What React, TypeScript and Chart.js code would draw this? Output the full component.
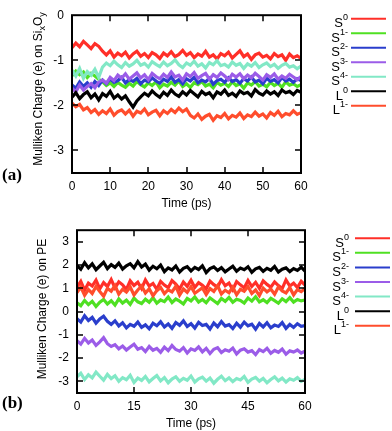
import React, { useEffect, useRef } from "react";
import { Chart, registerables } from "chart.js";

Chart.register(...registerables);

// ---------- legend / series descriptors ----------
const SERIES_BASE = ["S", "S", "S", "S", "S", "L", "L"];
const SERIES_SUP = ["0", "1-", "2-", "3-", "4-", "0", "1-"];
const SERIES_COLORS = ["#ff2f28", "#4fe022", "#2a3ecc", "#9b5ce8", "#82e8c6", "#000000", "#ff4d2c"];

// ---------- tick labels ----------
const A_X_TICKS = [0, 10, 20, 30, 40, 50, 60];
const A_Y_TICKS = [0, -1, -2, -3];
const B_X_TICKS = [0, 15, 30, 45, 60];
const B_Y_TICKS = [3, 2, 1, 0, -1, -2, -3];

// ---------- panel (a): Mulliken charge on SixOy, sampled every 1 ps (0..60) ----------
const A_S0 = [-0.72,-0.62,-0.70,-0.58,-0.66,-0.74,-0.63,-0.69,-0.80,-0.88,-0.79,-0.93,-0.84,-0.90,-0.82,-0.95,-0.86,-0.80,-0.91,-0.85,-0.94,-0.83,-0.88,-0.96,-0.84,-0.90,-0.81,-0.92,-0.87,-0.78,-0.89,-0.83,-0.94,-0.86,-0.91,-0.80,-0.93,-0.88,-0.97,-0.85,-0.90,-0.82,-0.95,-0.87,-0.79,-0.92,-0.86,-0.98,-0.88,-0.84,-0.93,-0.89,-0.97,-0.85,-0.92,-0.88,-1.00,-0.86,-0.94,-0.90,-0.96];
const A_S1 = [-1.34,-1.24,-1.32,-1.26,-1.38,-1.29,-1.35,-1.42,-1.48,-1.56,-1.50,-1.58,-1.49,-1.55,-1.60,-1.51,-1.57,-1.47,-1.54,-1.59,-1.50,-1.56,-1.48,-1.61,-1.53,-1.57,-1.49,-1.55,-1.46,-1.58,-1.52,-1.60,-1.50,-1.54,-1.47,-1.57,-1.53,-1.61,-1.49,-1.55,-1.51,-1.58,-1.48,-1.56,-1.52,-1.62,-1.50,-1.55,-1.47,-1.57,-1.53,-1.59,-1.49,-1.56,-1.51,-1.60,-1.48,-1.55,-1.52,-1.58,-1.54];
const A_S2 = [-1.55,-1.62,-1.48,-1.58,-1.50,-1.60,-1.47,-1.56,-1.44,-1.52,-1.41,-1.49,-1.45,-1.38,-1.50,-1.43,-1.47,-1.40,-1.52,-1.44,-1.48,-1.39,-1.46,-1.51,-1.42,-1.47,-1.37,-1.49,-1.43,-1.52,-1.41,-1.46,-1.38,-1.50,-1.44,-1.48,-1.40,-1.53,-1.45,-1.42,-1.49,-1.39,-1.47,-1.43,-1.51,-1.41,-1.46,-1.37,-1.48,-1.44,-1.52,-1.40,-1.47,-1.43,-1.50,-1.38,-1.46,-1.42,-1.49,-1.41,-1.45];
const A_S3 = [-1.62,-1.70,-1.55,-1.66,-1.58,-1.52,-1.61,-1.48,-1.44,-1.51,-1.38,-1.45,-1.33,-1.40,-1.30,-1.42,-1.35,-1.28,-1.39,-1.32,-1.43,-1.29,-1.36,-1.41,-1.31,-1.38,-1.26,-1.37,-1.33,-1.44,-1.30,-1.36,-1.27,-1.40,-1.34,-1.29,-1.42,-1.32,-1.38,-1.28,-1.35,-1.43,-1.31,-1.37,-1.30,-1.41,-1.33,-1.39,-1.29,-1.36,-1.44,-1.32,-1.38,-1.30,-1.42,-1.35,-1.40,-1.31,-1.37,-1.43,-1.36];
const A_S4 = [-1.22,-1.35,-1.18,-1.40,-1.25,-1.33,-1.20,-1.38,-1.15,-1.06,-1.12,-1.02,-1.10,-1.16,-1.05,-1.13,-1.08,-1.00,-1.11,-1.07,-1.15,-1.03,-1.09,-1.14,-1.04,-1.12,-1.07,-0.99,-1.10,-1.16,-1.06,-1.11,-1.02,-1.13,-1.08,-1.17,-1.05,-1.10,-1.01,-1.12,-1.09,-1.15,-1.04,-1.11,-1.07,-1.18,-1.08,-1.13,-1.05,-1.16,-1.10,-1.06,-1.14,-1.09,-1.18,-1.11,-1.07,-1.15,-1.12,-1.19,-1.13];
const A_L0 = [-1.82,-1.72,-1.85,-1.76,-1.70,-1.83,-1.75,-1.88,-1.74,-1.80,-1.69,-1.84,-1.77,-1.86,-1.79,-1.92,-2.04,-1.90,-1.81,-1.73,-1.79,-1.68,-1.76,-1.82,-1.71,-1.78,-1.66,-1.75,-1.80,-1.70,-1.77,-1.67,-1.74,-1.81,-1.69,-1.76,-1.72,-1.83,-1.70,-1.75,-1.66,-1.78,-1.73,-1.80,-1.68,-1.74,-1.71,-1.79,-1.65,-1.73,-1.77,-1.68,-1.75,-1.70,-1.78,-1.66,-1.72,-1.69,-1.76,-1.67,-1.71];
const A_L1 = [-1.95,-2.03,-1.98,-2.10,-2.05,-2.16,-2.09,-2.20,-2.12,-2.18,-2.08,-2.22,-2.14,-2.10,-2.19,-2.11,-2.24,-2.13,-2.17,-2.08,-2.21,-2.15,-2.11,-2.23,-2.12,-2.18,-2.09,-2.16,-2.06,-2.14,-2.08,-2.22,-2.28,-2.19,-2.31,-2.24,-2.20,-2.33,-2.23,-2.27,-2.18,-2.30,-2.22,-2.26,-2.17,-2.29,-2.21,-2.25,-2.15,-2.24,-2.19,-2.28,-2.16,-2.22,-2.13,-2.25,-2.18,-2.21,-2.12,-2.20,-2.16];

// ---------- panel (b): Mulliken charge on PE, sampled every 1 ps (0..60) ----------
const B_S0 = [1.05,1.30,0.92,1.22,1.10,1.35,0.98,1.25,1.08,1.38,1.02,1.28,1.15,0.95,1.32,1.12,1.26,0.99,1.36,1.10,1.21,0.96,1.30,1.14,1.03,1.33,1.18,0.97,1.27,1.09,1.35,1.04,1.24,1.13,0.98,1.31,1.16,1.06,1.37,1.11,1.23,0.94,1.29,1.15,1.02,1.34,1.08,1.26,1.00,1.32,1.17,1.05,1.28,1.12,0.99,1.36,1.10,1.22,1.03,1.30,1.14];
const B_S1 = [0.38,0.25,0.48,0.30,0.44,0.22,0.40,0.52,0.33,0.47,0.28,0.55,0.37,0.49,0.31,0.58,0.42,0.35,0.53,0.40,0.60,0.36,0.50,0.43,0.62,0.39,0.54,0.45,0.33,0.57,0.46,0.63,0.41,0.52,0.38,0.59,0.47,0.35,0.56,0.44,0.61,0.40,0.53,0.48,0.37,0.58,0.45,0.64,0.42,0.51,0.39,0.57,0.47,0.36,0.55,0.43,0.60,0.41,0.52,0.46,0.50];
const B_S2 = [-0.30,-0.45,-0.18,-0.38,-0.25,-0.50,-0.32,-0.20,-0.42,-0.55,-0.40,-0.62,-0.48,-0.70,-0.55,-0.63,-0.45,-0.68,-0.57,-0.74,-0.50,-0.61,-0.44,-0.66,-0.53,-0.72,-0.47,-0.59,-0.40,-0.64,-0.52,-0.71,-0.46,-0.60,-0.55,-0.75,-0.49,-0.65,-0.43,-0.62,-0.56,-0.73,-0.50,-0.67,-0.45,-0.61,-0.54,-0.76,-0.51,-0.66,-0.48,-0.70,-0.58,-0.64,-0.47,-0.72,-0.55,-0.68,-0.52,-0.63,-0.60];
const B_S3 = [-1.25,-1.40,-1.15,-1.35,-1.22,-1.45,-1.30,-1.12,-1.38,-1.50,-1.42,-1.60,-1.48,-1.65,-1.52,-1.40,-1.62,-1.55,-1.72,-1.50,-1.66,-1.58,-1.75,-1.53,-1.68,-1.46,-1.63,-1.70,-1.55,-1.78,-1.60,-1.67,-1.52,-1.73,-1.58,-1.80,-1.62,-1.55,-1.76,-1.64,-1.70,-1.57,-1.82,-1.66,-1.60,-1.74,-1.68,-1.85,-1.63,-1.72,-1.58,-1.79,-1.67,-1.75,-1.61,-1.83,-1.69,-1.74,-1.65,-1.78,-1.70];
const B_S4 = [-2.80,-2.65,-2.92,-2.72,-2.85,-2.60,-2.78,-2.95,-2.70,-2.88,-2.76,-3.00,-2.84,-2.93,-2.74,-3.05,-2.86,-2.96,-2.79,-3.02,-2.88,-2.75,-2.98,-2.84,-3.06,-2.90,-2.80,-3.00,-2.87,-2.95,-2.77,-3.03,-2.89,-2.82,-2.99,-2.86,-3.08,-2.91,-2.78,-2.97,-2.85,-3.01,-2.88,-2.94,-2.79,-3.04,-2.90,-2.83,-2.99,-2.87,-3.06,-2.92,-2.81,-2.98,-2.86,-3.03,-2.89,-2.95,-2.84,-3.00,-2.91];
const B_L0 = [1.98,1.82,2.10,1.88,2.05,1.80,1.96,2.12,1.85,2.02,1.90,2.08,1.83,1.97,2.06,1.88,2.15,1.92,2.04,1.78,1.95,1.84,2.00,1.72,1.88,1.79,1.96,1.70,1.86,1.93,1.75,1.90,1.81,1.97,1.68,1.85,1.92,1.77,1.89,1.71,1.83,1.95,1.74,1.87,1.80,1.93,1.69,1.84,1.90,1.73,1.86,1.78,1.94,1.70,1.82,1.88,1.72,1.85,1.77,1.91,1.74];
const B_L1 = [0.82,1.05,0.70,0.95,0.78,1.08,0.86,0.66,1.00,0.88,1.12,0.75,0.96,0.84,1.06,0.72,0.93,1.10,0.80,0.98,0.68,0.90,1.04,0.77,0.94,0.85,1.09,0.71,0.97,0.83,1.07,0.79,0.91,1.02,0.74,0.99,0.87,1.11,0.76,0.92,0.81,1.05,0.73,0.96,0.88,1.08,0.78,0.93,0.69,1.01,0.85,0.97,0.75,1.06,0.89,0.80,1.03,0.72,0.95,0.86,1.00];

const T_MAX = 60;
const SANS = "'Liberation Sans', Arial, Helvetica, sans-serif";

type Seg = { t: string; sub?: boolean };

type PanelCfg = {
  top: number;
  height: number;
  padTop: number;
  padRight: number;
  yWidth: number;
  xHeight: number;
  yMin: number;
  yMax: number;
  xTicks: number[];
  yTicks: number[];
  series: number[][];
  titleSegs: Seg[];
  titleX: number;
  titleY: number;
  label: string;
  labelY: number;
  legendY0: number;
  legendStep: number;
  legendTextRight: number;
  legendLineX0: number;
  legendLineX1: number;
  xTitlePadBottom: number;
};

const decorPlugin = {
  id: "decor",
  afterDatasetsDraw(chart: any, _args: any, opts: any) {
    const { ctx, chartArea } = chart;
    const { left, right, top, bottom } = chartArea;
    const xs = chart.scales.x;
    const ys = chart.scales.y;
    ctx.save();
    ctx.strokeStyle = "#000";
    ctx.lineWidth = 2;
    ctx.strokeRect(left, top, right - left, bottom - top);
    const tl = 6;
    ctx.lineWidth = 1.5;
    ctx.beginPath();
    (opts.xTicks as number[]).forEach((v) => {
      const px = Math.round(xs.getPixelForValue(v));
      if (px > left + 2 && px < right - 2) {
        ctx.moveTo(px, bottom);
        ctx.lineTo(px, bottom - tl);
        ctx.moveTo(px, top);
        ctx.lineTo(px, top + tl);
      }
    });
    (opts.yTicks as number[]).forEach((v) => {
      const py = Math.round(ys.getPixelForValue(v));
      if (py > top + 2 && py < bottom - 2) {
        ctx.moveTo(left, py);
        ctx.lineTo(left + tl, py);
        ctx.moveTo(right, py);
        ctx.lineTo(right - tl, py);
      }
    });
    ctx.stroke();
    ctx.restore();
  },
  afterDraw(chart: any, _args: any, opts: any) {
    const { ctx } = chart;
    ctx.save();
    // rotated y-axis title with subscripts
    const segs: Seg[] = opts.titleSegs;
    const mainFont = `12px ${SANS}`;
    const subFont = `9px ${SANS}`;
    let total = 0;
    const widths = segs.map((s) => {
      ctx.font = s.sub ? subFont : mainFont;
      const w = ctx.measureText(s.t).width;
      total += w;
      return w;
    });
    ctx.translate(opts.titleX, opts.titleY);
    ctx.rotate(-Math.PI / 2);
    ctx.fillStyle = "#000";
    ctx.textBaseline = "alphabetic";
    ctx.textAlign = "left";
    let cx = -total / 2;
    segs.forEach((s, i) => {
      ctx.font = s.sub ? subFont : mainFont;
      ctx.fillText(s.t, cx, s.sub ? 7 : 4);
      cx += widths[i];
    });
    ctx.restore();

    // legend
    ctx.save();
    const names: string[] = opts.names;
    const sups: string[] = opts.sups;
    const colors: string[] = opts.colors;
    names.forEach((n, i) => {
      const y = opts.legendY0 + i * opts.legendStep;
      ctx.font = `9px ${SANS}`;
      const sw = ctx.measureText(sups[i]).width;
      ctx.fillStyle = "#000";
      ctx.textAlign = "right";
      ctx.textBaseline = "alphabetic";
      ctx.fillText(sups[i], opts.legendTextRight, y + 1.5);
      ctx.font = `13px ${SANS}`;
      ctx.fillText(n, opts.legendTextRight - sw, y + 8.5);
      ctx.strokeStyle = colors[i];
      ctx.lineWidth = 2;
      ctx.beginPath();
      ctx.moveTo(opts.legendLineX0, y);
      ctx.lineTo(opts.legendLineX1, y);
      ctx.stroke();
    });
    // panel label
    ctx.font = `bold 17px 'Liberation Serif', 'Times New Roman', serif`;
    ctx.fillStyle = "#000";
    ctx.textAlign = "left";
    ctx.textBaseline = "middle";
    ctx.fillText(opts.label, 2, opts.labelY);
    ctx.restore();
  },
};

function Panel({ cfg }: { cfg: PanelCfg }) {
  const ref = useRef<HTMLCanvasElement | null>(null);
  useEffect(() => {
    if (!ref.current) return;
    const datasets = cfg.series.map((vals, si) => ({
      label: SERIES_BASE[si] + SERIES_SUP[si],
      data: vals.map((v, i) => ({ x: (i * T_MAX) / (vals.length - 1), y: v })),
      borderColor: SERIES_COLORS[si],
      backgroundColor: SERIES_COLORS[si],
      borderWidth: 3.2,
      pointRadius: 0,
      tension: 0,
      fill: false,
      order: cfg.series.length - si,
    }));
    const tickFont = { family: SANS, size: 12 };
    const chart = new Chart(ref.current, {
      type: "line",
      data: { datasets },
      plugins: [decorPlugin as any],
      options: {
        animation: false,
        responsive: false,
        maintainAspectRatio: false,
        devicePixelRatio: 1,
        layout: { padding: { left: 0, top: cfg.padTop, right: cfg.padRight, bottom: 0 } },
        plugins: {
          legend: { display: false },
          tooltip: { enabled: false },
          decor: {
            xTicks: cfg.xTicks,
            yTicks: cfg.yTicks,
            titleSegs: cfg.titleSegs,
            titleX: cfg.titleX,
            titleY: cfg.titleY,
            names: SERIES_BASE,
            sups: SERIES_SUP,
            colors: SERIES_COLORS,
            legendY0: cfg.legendY0,
            legendStep: cfg.legendStep,
            legendTextRight: cfg.legendTextRight,
            legendLineX0: cfg.legendLineX0,
            legendLineX1: cfg.legendLineX1,
            label: cfg.label,
            labelY: cfg.labelY,
          },
        } as any,
        scales: {
          x: {
            type: "linear",
            min: 0,
            max: T_MAX,
            afterBuildTicks: (s: any) => {
              s.ticks = cfg.xTicks.map((v) => ({ value: v }));
            },
            afterFit: (s: any) => {
              s.height = cfg.xHeight;
            },
            grid: { display: false, drawTicks: false },
            border: { display: false },
            ticks: { padding: 6, color: "#000", font: tickFont, maxRotation: 0, autoSkip: false },
            title: {
              display: true,
              text: "Time (ps)",
              color: "#000",
              font: { family: SANS, size: 12 },
              padding: { top: 0, bottom: cfg.xTitlePadBottom },
            },
          },
          y: {
            type: "linear",
            min: cfg.yMin,
            max: cfg.yMax,
            afterBuildTicks: (s: any) => {
              s.ticks = cfg.yTicks.map((v) => ({ value: v }));
            },
            afterFit: (s: any) => {
              s.width = cfg.yWidth;
            },
            grid: { display: false, drawTicks: false },
            border: { display: false },
            ticks: { padding: 8, color: "#000", font: tickFont, autoSkip: false },
          },
        },
      } as any,
    });
    return () => chart.destroy();
  }, [cfg]);
  return (
    <canvas
      ref={ref}
      width={392}
      height={cfg.height}
      style={{ position: "absolute", left: 0, top: cfg.top, width: 392, height: cfg.height, display: "block" }}
    />
  );
}

const PANEL_A: PanelCfg = {
  top: 0,
  height: 215,
  padTop: 5,
  padRight: 91,
  yWidth: 72,
  xHeight: 42,
  yMin: -3.5,
  yMax: 0,
  xTicks: A_X_TICKS,
  yTicks: A_Y_TICKS,
  series: [A_S0, A_S1, A_S2, A_S3, A_S4, A_L0, A_L1],
  titleSegs: [
    { t: "Mulliken Charge (e) on Si" },
    { t: "x", sub: true },
    { t: "O" },
    { t: "y", sub: true },
  ],
  titleX: 38,
  titleY: 89,
  label: "(a)",
  labelY: 176,
  legendY0: 18.8,
  legendStep: 14.5,
  legendTextRight: 348,
  legendLineX0: 351,
  legendLineX1: 386,
  xTitlePadBottom: 4,
};

const PANEL_B: PanelCfg = {
  top: 215,
  height: 216,
  padTop: 10,
  padRight: 87,
  yWidth: 77,
  xHeight: 38,
  yMin: -3.5,
  yMax: 3.5,
  xTicks: B_X_TICKS,
  yTicks: B_Y_TICKS,
  series: [B_S0, B_S1, B_S2, B_S3, B_S4, B_L0, B_L1],
  titleSegs: [{ t: "Mulliken Charge (e) on PE" }],
  titleX: 42,
  titleY: 94,
  label: "(b)",
  labelY: 189,
  legendY0: 23.2,
  legendStep: 14.6,
  legendTextRight: 349,
  legendLineX0: 355,
  legendLineX1: 390,
  xTitlePadBottom: 0,
};

export default function App() {
  return (
    <div style={{ position: "absolute", left: 0, top: 0, width: 392, height: 431, background: "#fff", overflow: "hidden" }}>
      <Panel cfg={PANEL_A} />
      <Panel cfg={PANEL_B} />
    </div>
  );
}
